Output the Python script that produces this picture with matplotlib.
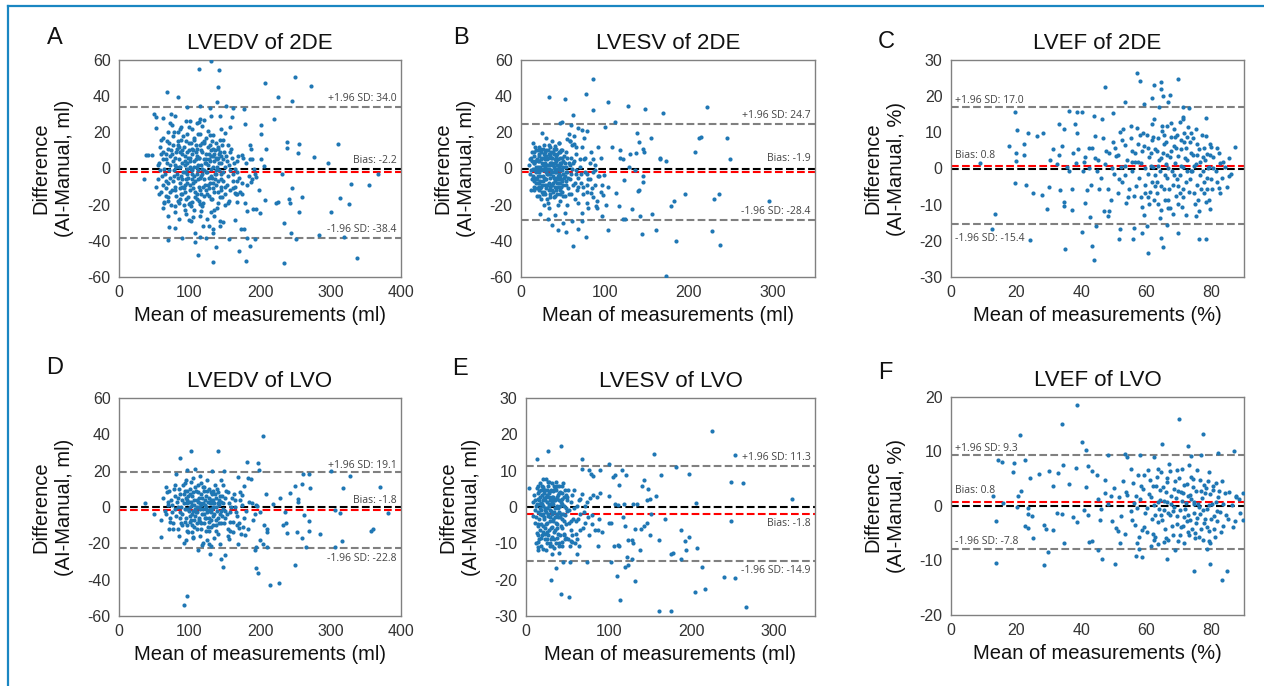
import numpy as np
import matplotlib
matplotlib.use('Agg')
import matplotlib.pyplot as plt
from matplotlib.lines import Line2D

plt.rcParams['font.family'] = ['Liberation Sans', 'DejaVu Sans']
plt.rcParams['axes.unicode_minus'] = False

# ---------------- Bland-Altman data: (mean, AI - manual) ----------------
# A  LVEDV of 2DE
a_pts = [
    (130, 59.5), (114, 55), (142, 54.5), (68, 42.5), (84, 39.4), (140, 45.3), (207.6, 47.3), (249.8, 50.4),
    (273, 45.5), (225.6, 39.6), (246, 37.2), (139, 36.8), (115, 34.6), (96, 33.9), (129, 33.3), (151.7, 34.8),
    (162, 33.7), (177, 32.9), (49.8, 30.2), (52, 28.3), (73.5, 30.4), (80, 29.3), (63, 27.8), (130, 29.1),
    (143, 29.1), (160, 28.7), (220, 27.4), (115, 27.6), (113, 25.8), (72.5, 25), (95.5, 26.3), (178.7, 24.7),
    (201, 24.1), (53, 22.3), (86, 21.7), (118, 23.5), (157, 23.2), (150, 19.5), (201, 19.1), (129, 18.4),
    (133, 18.4), (143, 15.5), (238, 14.9), (255, 13.8), (310, 13.8), (239, 11.2), (253.6, 8.8), (277, 6.1),
    (297, 2.9), (208, 11.0), (186, 12.9), (186.7, 10.7), (173.9, 7.4), (201.4, 5.2), (186, 5.5), (205, 1.5),
    (367, -2.8), (329, -8.3), (354, -9.2), (246, -11), (231, -3), (259, -15.8), (313.7, -16.4), (325.6, -19.5),
    (223, -19.1), (226, -18.4), (241, -17), (242, -19.1), (207, -17.3), (255, -24.3), (301, -24.3), (200, -24.7),
    (190.5, -22.5), (194.3, -22.5), (181.5, -23.7), (234, -30.4), (244.5, -35.7), (284, -37), (318.5, -37.7),
    (250.7, -39.2), (193.4, -38.8), (181, -38.6), (172.5, -33.7), (177, -33.5), (170, -45.6), (185.8, -42.9),
    (179.6, -51), (233.6, -52.1), (337, -49.5), (133.6, -51.5), (112, -48), (137.6, -43.3), (155.5, -39),
    (107.6, -40.9), (90, -38.7), (69, -39.6), (71, -32.6), (80, -33.1), (70, -26.1), (85.3, -28), (98.6, -28.3),
    (102, -28.9), (107.6, -35.7), (115.6, -37.9), (122.7, -38.6), (119.4, -31.7), (127, -32), (133, -33.5),
    (134.6, -26), (143, -28.9), (143, -32), (146.9, -29.4), (134, -35.7), (164, -28.5), (149.8, -20.2),
    (156, -18), (167.8, -14.2), (166.8, -18.6), (164, -13.8), (179, -19.3), (175, -14.2), (188.6, -5.9),
    (192.4, -2.8), (194.8, -4.6), (187.7, -7.7), (167, -6.8), (103, -18.4), (99.5, -19.5), (106.6, -22.8),
    (115, -19.5), (116.6, -23.5), (93.4, -22.8), (79, -21), (63.5, -18.6), (36, -5.7), (38.9, 7.2), (40.8, 7.2),
    (46.4, 7.2),
]
a_core = [
    (58, 12), (62, 5), (65, -3), (68, 15), (70, -8), (72, 2), (74, 10), (75, -12), (77, 18), (78, -1), (80, 6),
    (81, -15), (83, 13), (84, -5), (85, 1), (86, -17), (87, 9), (88, 16), (89, -10), (90, 3), (91, -2), (92, 12),
    (93, -13), (94, 7), (95, -6), (96, 19), (97, 0), (98, -16), (99, 10), (100, 4), (101, -9), (102, 14),
    (103, -3), (104, 8), (105, -11), (106, 1), (107, 17), (108, -7), (109, 5), (110, -14), (111, 11), (112, -1),
    (113, 6), (114, -18), (115, 13), (116, -4), (117, 2), (118, 9), (119, -10), (120, 15), (121, -6), (122, 3),
    (123, -12), (124, 8), (125, -2), (126, 12), (127, -15), (128, 5), (129, -8), (130, 0), (131, 10), (132, -5),
    (133, 7), (134, -11), (135, 4), (136, -3), (137, 14), (138, -9), (139, 1), (140, 6), (141, -13), (142, -1),
    (143, 9), (144, -6), (145, 3), (146, -16), (147, 5), (148, -2), (150, -10), (152, 7), (154, -4), (156, 2),
    (158, -12), (160, 6), (162, -7), (164, 0), (166, -14), (168, 4), (170, -5),
    (52, -10), (55, -6), (57, 3), (60, -13), (63, -9), (66, 8), (69, -18), (71, 14), (73, -5), (76, 4), (79, -10),
    (82, 11), (85, -19), (88, -4), (90, -14), (93, 2), (95, 15), (97, -8), (100, -19), (102, 0), (105, 10),
    (108, -13), (110, 7), (112, -6), (115, 19), (118, -3), (120, -15), (123, 5), (126, -9), (129, 13), (132, -17),
    (135, 8), (138, -3), (141, 11), (144, -12), (147, 16), (150, 1), (153, -9), (157, 9), (161, -3), (165, -10),
    (169, 7), (174, -8), (180, 3), (185, -4), (192, 0), (198, -12), (84, 20), (92, -20), (104, 22), (118, -21),
    (75, 24), (126, 21), (62, -22), (140, -19), (155, 13), (66, -15), (111, -17), (99, 23), (130, -24),
    (55, 2), (57, -14), (59, 8), (61, -4), (63, 17), (64, 0), (66, -11), (67, 5), (69, 11), (70, -16), (71, -1),
    (73, 7), (74, -20), (76, 13), (77, -7), (78, 20), (79, 2), (80, -12), (81, 9), (82, -3), (83, -18), (84, 15),
    (85, 5), (86, -8), (87, 1), (88, -14), (89, 10), (90, -6), (91, 18), (92, -11), (93, 4), (94, -2), (95, -17),
    (96, 9), (97, 3), (98, -5), (99, 14), (100, -12), (101, 6), (102, -21), (103, 11), (104, -1), (105, -8),
    (106, 16), (107, 4), (108, -16), (109, 9), (110, -3), (111, 1), (112, 19), (113, -10), (114, 6), (115, -5),
    (116, -14), (117, 10), (118, 0), (119, -19), (120, 5), (121, 14), (122, -9), (123, -2), (124, 17),
    (125, -14), (126, 2), (127, 8), (128, -11), (129, 4), (130, -17), (131, -4), (132, 15), (133, -8), (134, 1),
    (135, -13), (136, 10), (137, -1), (138, 6), (139, -22), (140, 12), (141, -7), (142, 3), (143, -16), (144, 7),
    (145, -10), (146, 13), (148, -7), (149, 9), (151, -14), (153, 4), (155, -19), (157, -1), (159, 11),
    (161, -11), (163, 3), (167, -2), (171, -13), (176, 6), (182, -9), (188, 5),
    (95, -25), (105, -27), (115, -26), (125, -28), (135, -23), (80, -24), (100, 26), (110, 25), (120, 27),
    (88, 23), (145, 22), (70, 20), (60, 16), (64, -19),
    (58, -1), (62, 9), (66, -7), (68, 3), (72, -13), (75, 8), (78, -4), (81, 1), (85, 12), (87, -11), (90, 8),
    (93, -9), (96, -3), (98, 6), (100, 1), (103, -6), (106, -4), (109, 13), (112, 2), (115, -12), (118, 14),
    (121, -1), (124, 3), (127, -5), (130, 7), (133, 11), (136, -6), (139, 5), (142, 8), (145, -3),
]

# B  LVESV of 2DE
b_pts = [
    (85.8, 49.5), (33.4, 39.8), (52.4, 38.3), (77, 41.4), (103, 37), (127.5, 34.8), (148, 32.9), (168.5, 30.7),
    (221, 34.2), (62, 29.6), (86, 32.2), (111.6, 25.8), (155, 17.1), (138, 19.5), (140, 14.9), (212, 16.7),
    (213.8, 17.5), (245.5, 16.7), (248.7, 5), (206.6, 9.2), (165, 5.3), (166, 6), (172.4, 3.9), (145.4, 10.7),
    (146.6, 9.2), (129.5, 8.1), (136.7, 8.5), (118, 10), (108, 12), (117.8, 5.9), (121.6, 5.3), (128.3, 0.6),
    (136, -1.1), (145, -3.9), (145.8, -7.4), (123, -6.4), (112.8, -13.4), (117, -21), (131.9, -22.3),
    (124, -27.8), (121.6, -28), (141.8, -26), (156, -25.4), (160.5, -33.9), (144.6, -36.3), (103.3, -34.2),
    (141, -12.1), (139.4, -12.5), (194.7, -14.2), (182.4, -18.2), (178, -21), (230, -16.9), (236, -14.2),
    (294.8, -17.9), (226.8, -34.8), (237.2, -42.2), (184.3, -40.1), (173.2, -59.3), (62, -42.7), (77.9, -37.7),
    (68.3, -33.5), (53, -35.3), (44.5, -33.9), (37, -31.5), (32.6, -27.8), (23, -25.4), (50, -30.4),
    (60.4, -29.3), (72.3, -29.1), (72.7, -24.7), (52, -24.7), (40, -25.6), (97, -26.5), (80.3, -21.9),
    (90, -18), (89, -21), (101.7, -20), (97.7, -14.5), (83.8, -13.6), (96, -9), (78.7, -9), (104, -10),
    (92.5, -3.9), (99, -3.5), (88, -1.1), (87.8, 1.8), (95.3, 5.7), (85.8, 5.2), (83.8, 9.4), (91.8, 12.1),
    (72.3, 12), (75.5, 16.7), (72.3, 21.3), (67.5, 22.3), (78.7, 20.8), (99.7, 22.8), (60, 24.1), (46, 25),
    (49.3, 25.6), (57.6, 19.1), (24.6, 19.5), (30.2, 17.1), (62.8, 17.7), (54.8, 16.4), (58.8, 15.3),
    (63.2, 13.4), (60.4, 13.1), (44.9, 14), (40.8, 12.7),
]
b_core = [
    (10, 2), (11, -3), (12, 6), (13, -6), (14, 0), (15, 9), (15, -10), (16, 3), (17, -1), (17, 12), (18, -8),
    (19, 5), (19, -15), (20, 1), (20, -4), (21, 8), (21, -12), (22, -2), (22, 4), (23, 11), (23, -7), (24, 0),
    (24, -17), (25, 6), (25, -9), (26, 2), (26, -4), (27, 13), (27, -13), (28, -1), (28, 7), (29, -6), (29, 3),
    (30, 10), (30, -11), (31, -3), (31, 5), (32, -19), (32, 0), (33, 8), (33, -8), (34, 2), (34, -5), (35, 12),
    (35, -14), (36, -1), (36, 6), (37, -9), (37, 3), (38, 9), (38, -4), (39, -16), (39, 1), (40, 5), (40, -7),
    (41, 11), (41, -2), (42, -12), (42, 4), (43, -5), (43, 8), (44, 0), (44, -10), (45, 14), (45, -3), (46, 6),
    (46, -18), (47, -8), (47, 2), (48, 10), (48, -6), (49, -1), (49, -13), (50, 4), (50, -9), (51, 7), (52, -4),
    (52, -15), (53, 1), (54, 9), (54, -7), (55, -2), (56, -11), (57, 3), (58, -6), (59, 6), (60, -14), (61, 0),
    (62, -9), (63, 4), (64, -17), (65, -3), (66, 8), (67, -12), (68, -5), (70, 1), (72, -8), (74, -14),
    (76, -2), (78, -19), (80, -6), (82, 3), (84, -11), (86, -16), (88, -9), (90, -22), (92, -4), (95, -13),
    (13, 4), (16, -7), (18, 1), (20, 10), (22, -10), (24, 5), (26, -14), (28, 2), (30, -2), (32, 6), (34, -10),
    (36, 3), (38, -8), (40, 0), (42, 7), (44, -6), (46, -1), (48, 3), (50, -3), (12, -12), (14, 14), (27, -20),
    (33, -22), (37, 15), (44, -20), (55, -20), (65, 12), (58, 15), (68, -19), (75, 5), (79, -3),
    (11, 5), (12, -1), (13, 9), (14, -4), (15, 3), (16, -12), (16, 7), (17, -5), (18, 10), (18, -2), (19, 0),
    (19, -11), (20, 4), (20, -8), (21, -1), (21, 12), (22, 7), (22, -15), (23, 1), (23, -4), (24, 9), (24, -10),
    (25, -1), (25, 3), (26, -7), (26, 11), (27, 0), (27, -5), (28, -9), (28, 5), (29, 1), (29, -14), (30, 7),
    (30, -6), (31, -9), (31, 2), (32, -3), (32, 10), (33, -12), (33, 0), (34, 7), (34, -16), (35, -3), (35, 3),
    (36, -9), (36, 9), (37, -2), (37, 6), (38, -13), (38, 2), (39, -5), (39, 8), (40, -10), (40, 3), (41, -6),
    (41, 0), (42, -2), (42, 11), (43, -14), (43, 2), (44, 5), (44, -4), (45, -8), (45, 1), (46, -12), (46, 3),
    (47, 9), (47, -4), (48, -10), (48, 0), (49, 6), (49, -7), (50, -15), (50, 1), (51, -5), (52, 3), (53, -9),
    (54, -2), (55, 6), (56, -5), (57, -14), (58, 2), (60, -3), (62, 3), (64, -8), (66, -1), (68, -10), (70, 5),
    (72, -3), (74, -10), (76, 6), (78, -13), (82, -6), (86, -2),
    (15, -6), (17, 4), (19, -6), (21, -8), (23, -11), (25, -13), (27, 8), (29, 9), (31, -17), (33, 13),
    (35, 8), (37, -12), (39, 11), (41, -15), (43, -8), (45, 9), (47, -14), (49, 10),
]

# C  LVEF of 2DE
c_pts = [
    (57, 26.5), (58, 24.3), (69.6, 24.8), (62.5, 23.1), (64.5, 23.9), (64.5, 21.9), (47.3, 22.5), (61.6, 19.5),
    (65.2, 20), (67.2, 20.2), (66.6, 18.5), (53.4, 18.5), (59.2, 17.9), (63.9, 17.1), (71.3, 16.9), (73.1, 16.6),
    (19.7, 15.6), (36.2, 15.9), (38.6, 15.5), (40.3, 15.6), (49.8, 15.3), (43.9, 14.4), (46.5, 13.6),
    (33.2, 12.4), (38.2, 12.2), (34.7, 10.9), (38.8, 9.9), (20.4, 10.6), (23.6, 9.8), (28.2, 9.8), (26.5, 9),
    (44.2, 9.1), (78.4, 13.9), (71.4, 14.2), (71.4, 13.7), (87.1, 6), (79.8, 5.9), (78.4, 8.9), (78.5, 4),
    (17.9, 6.1), (22.3, 6.9), (20.1, 4.2), (20, 2), (22.5, 3.6), (9, 1.5), (19.6, -4), (22.9, -4.6),
    (25.3, -6.8), (28, -7.2), (30, -5), (29.6, -11.2), (34.7, -9.2), (34.7, -10.5), (37.3, -11.6), (37.1, -5.7),
    (33.5, -5.9), (41.7, -5.9), (43.1, -4.6), (41.3, -9.6), (42.6, -13.5), (44.6, -15.8), (40.2, -17.5),
    (43.4, -21.3), (43.9, -25.2), (34.9, -22.2), (24.4, -19.9), (12.6, -16.6), (13.5, -12.5), (47, -11.8),
    (48.3, -13.1), (51.9, -16.7), (51.5, -19.5), (56, -19.6), (56.2, -16.4), (58.8, -17.7), (60.2, -16),
    (60.5, -23.4), (64.6, -19.2), (65.2, -21.7), (66.2, -15.6), (69.8, -17.8), (76.2, -19.5), (78.4, -19.5),
    (79.5, -11.2), (78.4, -9.4), (75.4, -13.2), (84.9, -5), (82.3, -5.4), (85.5, -2), (82.6, 1.5),
]
c_core = [
    (30.4, 2.3), (31.2, 5.4), (32.6, 1.2), (33.3, 3.6), (34.1, 6.3), (35.5, 0.4), (36.2, -0.7), (37.6, 4.2),
    (38.3, 1.4), (39.1, 5.5), (40.4, -0.6), (41.3, 3.3), (42.5, 0.2), (43.2, 5.6), (44.7, -0.8), (45.3, 2.4),
    (46.1, -2.6), (46.7, 8.3), (47.4, 1.3), (48.2, -5.7), (48.6, 4.4), (49.3, -8.6), (49.8, 7.3), (50.2, -1.6),
    (50.7, 3.4), (51.3, -6.8), (51.8, 10.2), (52.2, 0.4), (52.6, -3.7), (53.3, 6.4), (53.8, -9.6), (54.1, 2.3),
    (54.6, -5.6), (55.3, 8.4), (55.7, -0.6), (56.2, -7.7), (56.6, 4.3), (57.2, 11.3), (57.7, -2.6), (58.3, 1.4),
    (58.8, -10.6), (59.2, 6.3), (59.6, -4.7), (60.1, 9.4), (60.4, -1.6), (60.8, 3.3), (61.2, -6.6), (61.6, 12.4),
    (62.1, 0.3), (62.4, -8.7), (62.8, 5.4), (63.2, -3.6), (63.5, 8.3), (63.8, 2.4), (64.2, -0.7), (64.5, -11.6),
    (64.8, 10.3), (65.2, 4.4), (65.5, -5.6), (65.9, 1.3), (66.1, 7.4), (66.4, -2.7), (66.8, -8.6), (67.2, 3.3),
    (67.5, 12.6), (67.8, -0.6), (68.2, -4.7), (68.5, 6.3), (68.9, 1.4), (69.2, -7.6), (69.5, 9.3), (69.8, 3.4),
    (70.2, -1.7), (70.5, 5.3), (70.9, -10.6), (71.2, 0.4), (71.6, 7.3), (72.1, -3.7), (72.4, 2.3), (72.8, 11.4),
    (73.2, -6.6), (73.6, 4.3), (74.1, -0.7), (74.4, 8.3), (74.8, -9.7), (75.2, 1.3), (75.6, -4.7), (76.1, 5.4),
    (76.5, -1.7), (77.2, 9.3), (77.6, -6.7), (78.1, 2.3), (78.6, -2.7), (79.2, 0.4), (80.1, -5.7), (80.6, 3.3),
    (81.3, -0.7), (82.2, 4.3), (83.3, -2.6), (84.2, 0.3), (86.1, -1.6),
    (56.4, 1.7), (58.1, 9.2), (61.4, 4.2), (63.4, -6.8), (65.3, 9.2), (67.3, -10.8), (69.3, -2.8), (71.3, -5.8),
    (73.4, 7.2), (75.3, 10.8), (77.3, 3.2), (79.4, -8.8), (62.3, 13.8), (66.3, 11.7), (70.3, 12.8), (55.4, 11.8),
    (52.4, 7.8), (48.4, -11.7), (59.4, -12.8), (64.3, -13.8), (72.3, -12.8), (76.3, -11.8), (68.3, -12.7),
    (50.5, 5.8), (51.6, -2.8), (52.8, 10.8), (53.5, 0.8), (54.4, -7.8), (55.6, 4.8), (56.7, -4.8), (57.4, 1.8),
    (58.4, -7.8), (58.6, 4.8), (59.5, 0.2), (59.1, 9.8), (60.5, -7.8), (60.6, 5.8), (61.5, 0.8), (61.7, -3.8),
    (62.6, -1.8), (62.2, 8.8), (63.7, -9.8), (63.3, 4.8), (64.6, 2.8), (64.4, -4.8), (65.7, -1.8), (65.4, 6.8),
    (66.6, 0.2), (66.7, -10.8), (67.6, 4.8), (67.1, -5.8), (68.7, 8.8), (68.4, -1.8), (69.6, -9.8), (69.1, 5.8),
    (70.6, 0.8), (70.7, 7.8), (71.4, -7.8), (71.8, 2.8), (72.6, -0.8), (72.2, 5.8), (73.5, -2.8), (73.7, 9.8),
    (74.6, -6.8), (74.3, 3.8), (75.5, 6.8), (75.8, -8.8), (76.6, 1.8), (76.8, -5.8), (77.5, -0.8), (77.8, 5.8),
    (78.5, -5.8), (78.8, 0.2), (79.6, 3.8), (79.8, -2.8), (80.5, 0.2), (81.6, 5.8), (81.8, -3.8), (82.5, -6.8),
    (83.6, 1.8), (85.4, 2.8),
    (40.7, 1.8), (42.3, 5.8), (44.3, 2.8), (45.6, -5.8), (47.6, 4.8), (49.5, 0.2), (51.4, 3.8), (53.6, -1.8),
    (55.5, 1.8), (57.5, 6.8), (59.7, -6.8), (61.8, 7.8), (63.6, 0.8), (65.6, -8.8), (67.7, 8.8), (69.7, -4.8),
    (71.5, 9.8), (73.8, -0.8), (75.7, 3.8), (77.7, -3.8), (79.7, 6.8), (60.7, -9.8), (64.7, 11.8), (68.6, 10.8),
    (72.5, 8.8), (66.5, 3.8), (62.7, -4.8), (70.4, -6.8), (74.5, 0.8),
]

# D  LVEDV of LVO
d_pts = [
    (203.8, 38.9), (101.9, 30.8), (140.8, 30.6), (86.3, 27.2), (181, 25), (196.7, 24), (199, 20.2), (108, 20.7),
    (96.7, 20.2), (132.2, 19.6), (81.5, 18.3), (148.8, 19.6), (168.2, 16.5), (183.4, 16.1), (186.7, 15.4),
    (261.6, 18.3), (269.7, 18), (300.9, 19.6), (327.5, 16.9), (249.8, 11.4), (259.2, 12.8), (317.5, 10.3),
    (370.6, 10.8), (270.6, 10.3), (243.2, 7.7), (228.4, 5.1), (253.6, 4.6), (254.5, 2.8), (208, 7.3),
    (177.7, 11.4), (171.6, 8.1), (174.4, 6.4), (218, 1.7), (196.2, 0.4), (306.6, -1.8), (313.7, -3.3),
    (381.5, -3.1), (235.5, -2.8), (262, -4.6), (269.7, -7.9), (236.7, -8.8), (238.6, -14.1), (232.5, -9.7),
    (252, -13.8), (269.7, -13.2), (285.3, -14.7), (259.2, -16.9), (317, -18.9), (306, -21.8), (357.8, -13),
    (360, -12.3), (265, -22), (200, -18.3), (204.7, -20.6), (210.4, -22), (192.4, -23.5), (194.3, -22.2),
    (209.5, -13.8), (209.5, -11.9), (193.8, -33.4), (197.2, -36.1), (214.2, -42.8), (227.5, -41.7),
    (249.3, -31.7), (96.2, -49), (91.5, -53.8), (147.9, -33), (144, -28.4), (150.7, -26.2), (129, -25.7),
    (111.4, -23.9), (91.5, -19.6), (60.2, -16.7), (71, -11.9), (104.7, -16.5), (119.4, -19.8), (127, -20.6),
    (129.9, -21.7), (117.5, -21.1), (168.7, -20.2), (173.5, -14.7), (179, -15.6), (170, -11.4), (155.5, -17.4),
    (142.7, -20.6), (37.4, 2.4), (50.2, -3.7), (60.2, -7.3), (67.3, 11),
]
d_core = [
    (62, 5), (65, -2), (68, 8), (70, 1), (72, -6), (74, 4), (76, -9), (78, 10), (80, -1), (82, 3), (84, -12),
    (86, 7), (88, 0), (90, -4), (91, 12), (92, 2), (94, -8), (95, 5), (96, -1), (97, 9), (98, -14), (99, 3),
    (100, -5), (101, 0), (102, 14), (103, -10), (104, 6), (105, -2), (106, 1), (107, -7), (108, 11), (109, -3),
    (110, 4), (111, -12), (112, 8), (113, 0), (114, -6), (115, 2), (116, 13), (117, -9), (118, 5), (119, -1),
    (120, -4), (121, 9), (122, 1), (123, -13), (124, 6), (125, -3), (126, 3), (127, -8), (128, 10), (129, -1),
    (130, 4), (131, -11), (132, 7), (133, 0), (134, -5), (135, 2), (136, 12), (137, -7), (138, 5), (139, -2),
    (140, -15), (141, 8), (142, 1), (143, -4), (144, 3), (145, -9), (146, 6), (148, -1), (150, -6), (152, 9),
    (154, -12), (156, 2), (158, -3), (160, 5), (162, -8), (165, 0), (168, -5), (172, 4), (176, -11), (180, -2),
    (185, 3), (190, -7), (195, 1), (200, -3), (205, -10),
    (75, -3), (83, 5), (87, -6), (93, 9), (97, -10), (100, 7), (104, -14), (108, -1), (112, 3), (115, -8),
    (119, 11), (122, -6), (126, -11), (130, -3), (134, 9), (138, -10), (142, 4), (147, 12), (151, -2),
    (157, -13), (163, 7), (167, -10), (102, -7), (110, -9), (117, 1), (124, -1), (131, 2), (88, -9), (96, 4),
    (128, -6),
    (66, -4), (69, 3), (71, 9), (73, -8), (75, 1), (77, -12), (79, 6), (81, -5), (83, 0), (85, 10), (87, -3),
    (89, 4), (90, -10), (92, 7), (93, -1), (94, 13), (95, -6), (96, 2), (97, -13), (98, 6), (99, -2), (100, 10),
    (101, -8), (102, 3), (103, -4), (104, 1), (105, 8), (106, -11), (107, 4), (108, -5), (109, 9), (110, 0),
    (111, -3), (112, 12), (113, -7), (114, 5), (115, -1), (116, -12), (117, 7), (118, -4), (119, 2), (120, 11),
    (121, -9), (122, 4), (123, 0), (124, -6), (125, 9), (126, -2), (127, 5), (128, -13), (129, 2), (130, -7),
    (131, 8), (132, -1), (133, -10), (134, 4), (135, -4), (136, 7), (137, 0), (138, -13), (139, 10), (140, -6),
    (141, 2), (142, -9), (143, 6), (144, -2), (146, -5), (147, 2), (149, -9), (151, 5), (153, -4), (155, 8),
    (157, -8), (159, 0), (161, -14), (164, 4), (166, -3), (170, -9), (174, 1), (178, -6), (183, -12), (188, 2),
    (193, -4),
    (85, -16), (95, -18), (105, -17), (115, -16), (125, -18), (135, -17), (105, 16), (115, 17), (125, 15),
    (95, 15), (145, 15), (80, 12), (155, -16),
]

# E  LVESV of LVO
e_pts = [
    (225.3, 21), (42, 16.7), (26.6, 15.4), (155, 14.5), (253, 14.4), (13.7, 13.2), (68.2, 13.2), (100.5, 11.9),
    (116.7, 10.1), (182, 11.1), (75.9, 10.2), (78.3, 9), (81.6, 8.6), (89.2, 10.1), (67.4, 10.4), (105.8, 8.3),
    (107.5, 8.7), (120.7, 8.7), (163.9, 8.7), (197, 9.2), (248.3, 6.9), (263.2, 6.5), (143.3, 7.4), (140, 5.7),
    (147.4, 5), (112.6, 6), (322.2, 2.3), (205.9, 1.1), (157.5, 2.9), (146.9, 1.8), (150.2, 2.3), (134, 0.9),
    (129.2, 0.9), (118.7, 0.9), (107.3, 0.9), (101, 3), (89.6, 3.9), (86.4, 2.8), (81.1, 3.2), (111, 0.6),
    (151.8, -2), (168.7, -3.3), (248.7, -3.9), (146.5, -4.5), (142.9, -5.1), (131.9, -6), (138.8, -6),
    (150.6, -7.6), (119.5, -5.2), (117.1, -2.8), (100.1, -4.3), (103.4, -4.3), (92.5, -6.9), (86.8, -6.4),
    (87.2, -10.8), (107, -10.7), (111, -10.4), (112.6, -10.7), (124, -9.2), (130, -9.9), (128.4, -9),
    (138.5, -11.9), (161.5, -9), (187.3, -6.4), (192.6, -9.4), (197, -8.3), (194.2, -11.8), (207.2, -11.2),
    (175.6, -12.8), (177.6, -12.7), (187.3, -14.2), (122.3, -13.8), (128.4, -14.2), (103.4, -15.1),
    (109.8, -19.1), (119.9, -16.5), (123.5, -16.1), (132.4, -20.4), (113.8, -25.7), (213.6, -16.5),
    (239.8, -19.4), (253.5, -19.5), (216.8, -22.7), (204.3, -23.4), (266.9, -27.5), (160.7, -28.7),
    (176, -28.6), (73.5, -15.1), (61.4, -12.8), (52.9, -15.1), (45.2, -15.1), (35.9, -16.8), (29.9, -20),
    (42.4, -24), (51.7, -24.9), (14.5, -11), (14.5, -11.7), (3.2, 5.2), (56.1, -9.6), (59.3, -9.9),
    (54.5, -9.4), (64.6, -10.7),
]
e_core = [
    (8, 1.3), (9, -2.4), (10, 3.2), (11, -4.3), (12, 0.4), (13, 5.3), (13, -7.2), (14, 2.3), (15, -1.4),
    (15, -9.6), (16, 4.4), (16, -3.2), (17, 6.7), (17, -6.3), (18, 1.2), (18, -8.6), (19, -2.3), (19, 3.4),
    (20, 5.6), (20, -5.3), (21, 0.3), (21, -11.6), (22, 2.4), (22, -3.4), (23, 4.7), (23, -7.4), (24, -1.3),
    (24, 7.6), (25, 1.4), (25, -4.4), (26, -8.7), (26, 3.3), (27, 5.7), (27, -2.4), (28, 0.2), (28, -6.3),
    (29, 4.3), (29, -10.7), (30, -1.2), (30, 2.3), (31, -5.4), (31, 6.6), (32, 1.3), (32, -8.3), (33, -3.3),
    (33, 4.4), (34, -1.4), (34, -11.4), (35, 5.3), (35, -6.3), (36, 2.2), (36, -4.4), (37, -8.6), (37, 0.3),
    (38, 5.7), (38, -2.3), (39, 3.3), (39, -7.3), (40, -1.3), (40, -12.6), (41, 4.2), (42, -5.3), (42, 1.4),
    (43, -9.7), (44, 2.3), (44, -3.4), (45, 6.6), (46, -7.3), (46, 0.4), (47, -2.3), (48, 3.3), (49, -8.4),
    (50, -1.2), (51, 4.7), (52, -4.3), (53, -10.6), (54, 1.3), (55, -6.3), (56, 3.4), (57, -3.3), (58, 4.6),
    (60, -7.3), (62, 0.3), (63, -3.4), (65, 2.3), (66, -6.4), (68, 3.6), (70, -1.3), (72, -4.4), (74, 1.3),
    (76, -7.7), (78, 2.6), (80, -2.3), (84, -6.3), (88, -3.4),
    (14.5, -5.2), (17.5, 0.8), (19.5, -7.8), (21.5, 3.8), (23.5, -0.8), (25.5, -9.8), (27.5, 2.8), (29.5, -3.8),
    (31.5, 0.8), (33.5, -8.8), (35.5, 1.8), (37.5, -4.8), (39.5, 5.8), (41.5, -2.8), (43.5, 3.8), (45.5, -7.8),
    (47.5, 4.8), (49.5, 1.8), (26.5, 6.8), (30.5, -8.8), (34.5, 4.8), (18.5, 4.8), (22.5, -5.8), (28.5, -2.8),
    (32.5, 2.8),
    (10.5, -0.8), (11.5, 1.8), (12.5, -2.8), (13.5, 0.8), (14, -7.8), (14, 3.8), (15.5, 1.8), (15, -4.8),
    (16.5, -0.2), (16, -8.8), (17, 2.8), (17.5, -1.8), (18, -4.8), (18.5, -0.8), (19, 0.8), (19.5, 5.8),
    (20.5, -1.8), (20, 1.8), (21, -6.8), (21.5, -2.8), (22, 4.8), (22.5, -0.2), (23, -8.8), (23.5, 1.8),
    (24, -4.8), (24.5, 2.8), (25, -6.8), (25.5, 4.8), (26, -0.2), (26.5, -1.8), (27, -7.8), (27.5, 0.8),
    (28, 3.8), (28.5, -9.8), (29, -0.8), (29.5, 1.8), (30, 4.8), (30.5, -5.8), (31, -1.8), (31.5, 2.8),
    (32, -10.8), (32.5, -3.8), (33, 0.8), (33.5, 5.8), (34, -6.8), (34.5, 1.8), (35, -2.8), (35.5, -0.2),
    (36, 4.8), (36.5, -9.8), (37, 2.8), (37.5, -1.8), (38, -5.8), (38.5, -0.2), (39, -2.8), (39.5, -9.8),
    (40, 1.8), (40.5, 3.8), (41, -7.8), (41.5, 0.2), (42, -1.8), (43, -5.8), (43.5, 0.8), (44, -10.8),
    (45, -1.8), (45.5, 2.8), (46, -3.8), (47, -8.8), (48, -0.2), (49, -4.8), (50, 2.8), (51, -8.8), (52, -0.8),
    (54, -3.8), (56, -7.8), (58, -0.2), (60, -3.8), (62, -8.8), (64, 1.8), (66, -1.8), (69, -5.8), (72, 0.2),
    (75, -2.8), (80, -4.8),
    (20, 7.8), (24, -11.8), (28, 6.8), (32, -12.8), (36, 6.8), (40, -10.8), (44, 5.8), (18, -10.8), (15, 5.8),
    (12, -9.8),
]

# F  LVEF of LVO
f_pts = [
    (38.8, 18.5), (69.9, 15.9), (34, 15.1), (21.1, 13), (77.5, 13.3), (40.2, 11.7), (64.8, 11.4), (72.9, 11.1),
    (41.6, 10.3), (81.9, 9.7), (87, 10), (14.5, 8.5), (15.6, 8), (22.7, 8.5), (19.4, 7.9), (48.3, 9.3),
    (53.5, 9.5), (54, 9), (58.1, 9.3), (62.5, 9), (73.6, 9.1), (76.9, 9.3), (18.9, 6.2), (24.2, 5.1),
    (26.9, 5.8), (30, 6.5), (32.9, 6.1), (34.4, 7.5), (38.3, 6.9), (42, 7.3), (43.2, 6.5), (44.7, 5.7),
    (36.2, 4.1), (31.4, 3.7), (41.6, 3.4), (13, 1.9), (21.6, 2.8), (20.5, 1.8), (16.1, 0.6), (13.9, -2.8),
    (20.3, -0.2), (23.5, -0.4), (23.7, -1.5), (25, -1.9), (22.8, -3.7), (23.6, -4), (25.2, -5.8), (28.5, -3.4),
    (29.1, -4.2), (31.4, -4.4), (34.8, -6.7), (13.9, -10.5), (28.7, -10.8), (29.9, -8.4), (32.6, -1.3),
    (34.2, -1.4), (37.6, -2), (38.7, -2.9), (40.9, -0.8), (42.1, -1.7), (42.5, -6.6), (43.2, -6.4), (45.3, -8),
    (46.5, -9.7), (50.4, -10.6), (51.8, -6.7), (56.7, -9.1), (58.7, -9.4), (57.6, -7.8), (62.4, -6.3),
    (63.7, -7), (66.4, -9.7), (68.7, -8), (74.7, -11.9), (79.6, -10.6), (83.2, -13.6), (84.9, -12),
    (78.6, -7.9), (79.2, -6.5), (89.8, 2.3), (87.5, 1.9), (88.8, -1.2), (89.6, -2.6),
]
f_core = [
    (45.3, 1.2), (46.1, -0.6), (47.4, 2.4), (48.2, 0.3), (49.6, -2.7), (50.2, 3.3), (50.8, -4.1), (51.5, 1.6),
    (52.3, -1.8), (52.7, 4.6), (53.4, -5.2), (54.1, 2.1), (55.2, -0.9), (55.8, 4.2), (56.3, 0.5), (56.6, -3.4),
    (57.4, 5.7), (58.2, 1.3), (58.7, -4.4), (59.1, 3.1), (59.6, -1.2), (60.3, -4.7), (60.8, 2.2), (61.2, 4.8),
    (61.6, -2.3), (62.4, 0.1), (62.8, -5.6), (63.1, 3.6), (63.5, -2.9), (64.2, 1.1), (64.6, 6.3), (65.3, -0.7),
    (65.7, -4.2), (66.1, 2.6), (66.5, 4.4), (67.2, -1.6), (67.7, 0.4), (68.3, -5.3), (68.6, 3.2), (69.2, 1.4),
    (69.5, -3.3), (70.1, 5.2), (70.4, -0.8), (70.8, -3.9), (71.3, 2.3), (71.7, -2.1), (72.2, 0.6), (72.5, 4.1),
    (72.9, -4.8), (73.3, -2.6), (73.8, 1.2), (74.2, 3.4), (74.5, -1.3), (74.9, -5.9), (75.3, 2.7), (75.7, -2.2),
    (76.2, -0.1), (76.5, 4.7), (76.9, -4.3), (77.2, 1.5), (77.6, -3.1), (78.3, 3.3), (78.7, -0.6), (79.1, -4.6),
    (79.6, 2.2), (80.2, 0.4), (80.7, -1.9), (81.3, 4.3), (81.6, -2.8), (82.1, 1.7), (82.6, -1.1), (83.4, -3.6),
    (84.2, 2.4), (85.1, -2.3), (86.3, 0.2), (87.2, -2.7), (88.4, 1.3),
    (57.6, -5.7), (60.5, 6.6), (63.8, -0.6), (66.8, -6.2), (67.4, 6.4), (69.8, -6.4), (71.1, 6.8), (73.6, 5.3),
    (75.1, -4.9), (77.8, 3.8), (79.3, 6.2), (64.4, -1.6), (68.1, -0.9), (70.6, 2.6), (72.7, 1.8), (74.7, 0.3),
    (76.4, -1.4), (78.1, -2.4), (80.4, 2.9), (66.3, 0.8), (62.2, 3.7), (65.1, 3.4), (71.4, -3.6), (73.1, -5.4),
    (55.5, -2.6), (56.9, 1.8), (57.2, -0.4), (58.5, 3.7), (59.3, -3.8), (60.1, -0.3), (61.4, 1.6), (61.9, -5.1),
    (62.6, -1.7), (63.3, 5.4), (63.7, 0.7), (64.8, -2.6), (64.1, 2.9), (65.5, 0.9), (65.9, -5.8), (66.6, -1.2),
    (66.2, 5.1), (67.5, 1.9), (67.9, -3.7), (68.4, -0.2), (68.8, 4.6), (69.3, -1.8), (69.7, 2.8), (70.3, -5.3),
    (70.9, 0.9), (71.5, 3.8), (71.9, -0.5), (72.4, -2.7), (72.8, -1.6), (73.4, 2.1), (73.9, -4.3), (74.3, 4.9),
    (74.6, 0.8), (75.4, -3.2), (75.9, 0.3), (76.7, 2.8), (76.3, -5.6), (77.4, -0.7), (77.9, 2.4), (78.5, -3.8),
    (78.9, 4.6), (79.4, 0.2), (79.8, -2.3), (80.6, 3.6), (80.9, -4.2), (81.5, 0.7), (81.8, -0.9), (82.4, 2.8),
    (82.8, -4.7), (83.7, 0.4), (84.6, -1.7), (85.4, 2.6), (86.7, -3.8), (87.5, 1.6),
    (45.7, -2.6), (47.2, 4.7), (49.3, 1.8), (51.2, -4.6), (53.7, 2.6), (55.4, 6.7), (57.1, -6.8), (59.4, 5.6),
    (61.3, -7.4), (63.6, 6.8), (65.4, -6.6), (67.1, 7.7), (69.4, 6.6), (71.6, -6.7), (73.2, 7.6), (75.6, 6.6),
    (77.3, -6.3), (79.7, -6.8), (81.2, -5.7), (83.3, 4.6),
]

# bias and limits of agreement (upper, bias, lower)
a_loa = (34.0, -2.2, -38.4)
b_loa = (24.7, -1.9, -28.4)
c_loa = (17.0, 0.8, -15.4)
d_loa = (19.1, -1.8, -22.8)
e_loa = (11.3, -1.8, -14.9)
f_loa = (9.3, 0.8, -7.8)

titles = ['LVEDV of 2DE', 'LVESV of 2DE', 'LVEF of 2DE', 'LVEDV of LVO', 'LVESV of LVO', 'LVEF of LVO']
letters = ['A', 'B', 'C', 'D', 'E', 'F']

W, H = 1264, 686
fig = plt.figure(figsize=(W / 100, H / 100), dpi=100)

# panel boxes in pixels: left, top, right, bottom
boxes = [(119, 60, 401, 277), (521, 60, 815, 277), (951, 60, 1244, 277),
         (119, 398, 401, 616), (526, 398, 815, 616), (951, 397, 1244, 615)]
letter_pos = [(55, 38), (461, 38), (886, 42), (55, 368), (460, 369), (885, 373)]

# x range, y range, y step, unit, label side ('r'/'l'), text offsets (pt) for upper/bias/lower
panels = [
    (a_pts + a_core, a_loa, (0, 400), (-60, 60), 20, 'ml', 'r', (6, 6, 6)),
    (b_pts + b_core, b_loa, (0, 350), (-60, 60), 20, 'ml', 'r', (6, 7, 6)),
    (c_pts + c_core, c_loa, (0, 90), (-30, 30), 10, '%', 'l', (5, 7, -10)),
    (d_pts + d_core, d_loa, (0, 400), (-60, 60), 20, 'ml', 'r', (5, 5, -7)),
    (e_pts + e_core, e_loa, (0, 350), (-30, 30), 10, 'ml', 'r', (6, -7, -7)),
    (f_pts + f_core, f_loa, (0, 90), (-20, 20), 10, '%', 'l', (5, 8, 5)),
]

for i, (pts, loa, xl, yl, ystep, unit, side, offs) in enumerate(panels):
    l, t, r, b = boxes[i]
    ax = fig.add_axes([l / W, 1 - b / H, (r - l) / W, (b - t) / H])
    xy = np.array(pts)
    ax.scatter(xy[:, 0], xy[:, 1], s=9, color='#1f77b4', linewidths=0, zorder=3)

    up, bias, lo = loa
    ax.axhline(up, color='gray', ls='--', lw=1.5, zorder=2)
    ax.axhline(lo, color='gray', ls='--', lw=1.5, zorder=2)
    ax.axhline(0, color='black', ls='--', lw=1.5, zorder=2)
    ax.axhline(bias, color='red', ls='--', lw=1.5, zorder=2)

    if side == 'r':
        xf, ha = 0.985, 'right'
    else:
        xf, ha = 0.013, 'left'
    bias_ref = max(bias, 0) if offs[1] > 0 else bias
    labels = [('+1.96 SD: %.1f' % up, up, offs[0]),
              ('Bias: %.1f' % bias, bias_ref, offs[1]),
              ('-1.96 SD: %.1f' % lo, lo, offs[2])]
    for txt, yv, off in labels:
        ax.annotate(txt, xy=(xf, yv), xycoords=('axes fraction', 'data'),
                    xytext=(0, off), textcoords='offset points', ha=ha, va='center',
                    fontsize=7.5, family=['Open Sans', 'DejaVu Sans'], color='#444444')

    ax.set_xlim(*xl)
    ax.set_ylim(*yl)
    ax.set_xticks(np.arange(xl[0], xl[1] + 1, 100 if unit == 'ml' else 20))
    ax.set_yticks(np.arange(yl[0], yl[1] + 1, ystep))
    ax.tick_params(length=0, pad=6, labelsize=11.5, labelcolor='#333333')
    for sp in ax.spines.values():
        sp.set_color('#808080')
        sp.set_linewidth(1.0)

    ax.set_title(titles[i], fontsize=16, pad=8, color='#111111')
    ax.set_xlabel('Mean of measurements (%s)' % unit, fontsize=14.5, labelpad=4, color='#111111')
    ax.set_ylabel('Difference\n(AI-Manual, %s)' % unit, fontsize=14.5, labelpad=10,
                  color='#111111', linespacing=1.3)

    lx, ly = letter_pos[i]
    fig.text(lx / W, 1 - ly / H, letters[i], fontsize=17, ha='center', va='center', color='#111111')

# frame lines on the top and left edge
fig.add_artist(Line2D([7.5 / W, 1], [1 - 6 / H, 1 - 6 / H], color='#1a86c2', lw=1.6))
fig.add_artist(Line2D([7.5 / W, 7.5 / W], [0, 1 - 6 / H], color='#1a86c2', lw=1.6))

fig.savefig('out.png', dpi=100)
